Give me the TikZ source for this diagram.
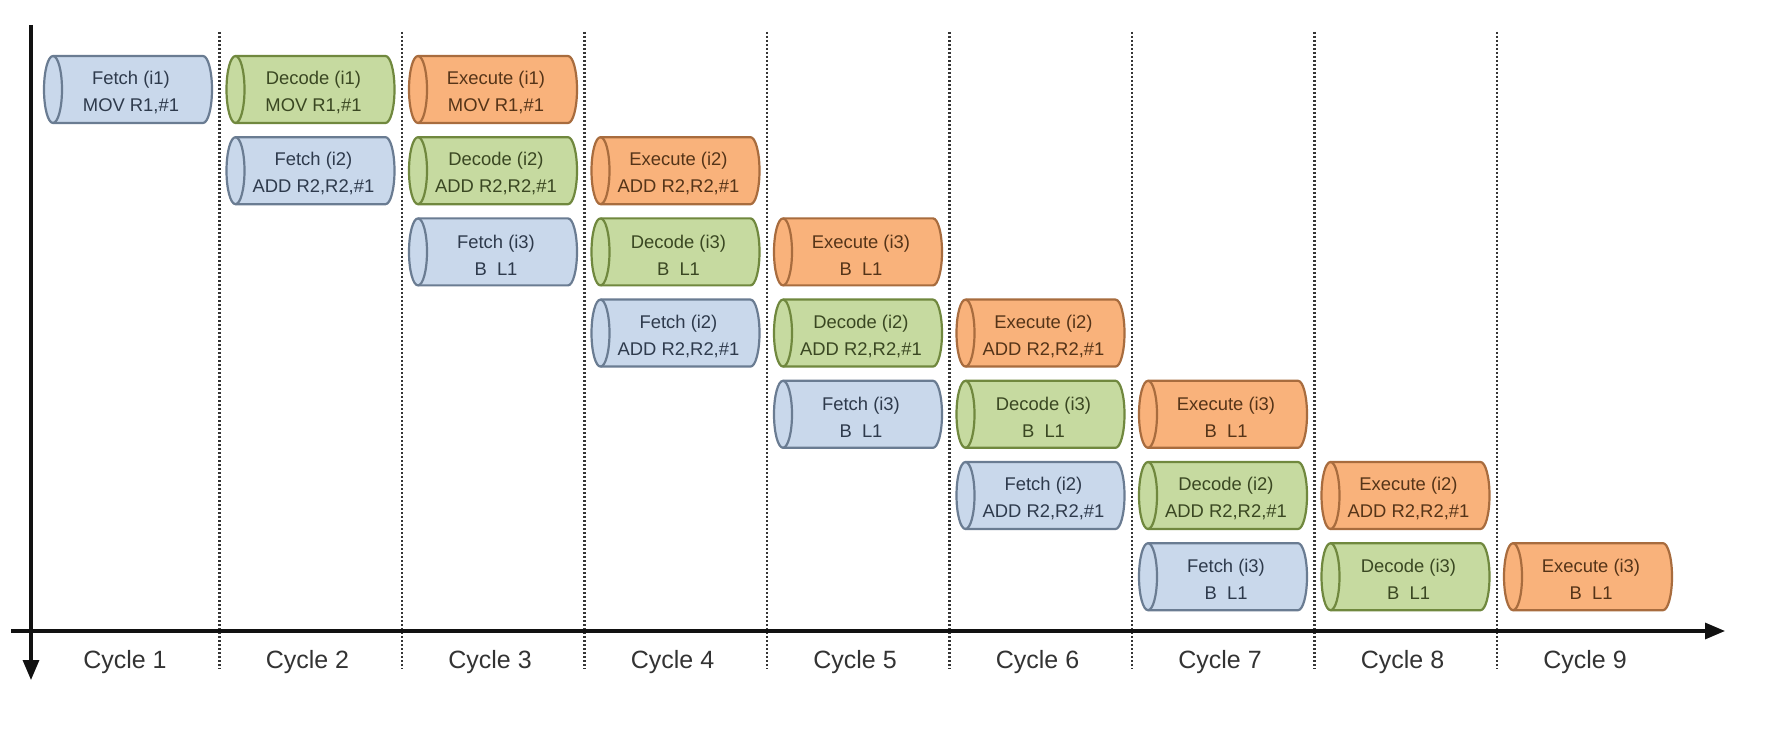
\documentclass[tikz,border=0pt]{standalone}
\usepackage{fontspec}
\setmainfont{Liberation Sans}
\usetikzlibrary{arrows.meta}
\definecolor{fetchfill}{HTML}{C9D8EB}
\definecolor{fetchline}{HTML}{6A7C92}
\definecolor{fetchtext}{HTML}{2E3A4C}
\definecolor{decodefill}{HTML}{C6DAA0}
\definecolor{decodeline}{HTML}{70883E}
\definecolor{decodetext}{HTML}{3A4722}
\definecolor{executefill}{HTML}{F9B27B}
\definecolor{executeline}{HTML}{A86C3E}
\definecolor{executetext}{HTML}{553418}
\definecolor{axiscol}{HTML}{111111}
\definecolor{labelcol}{HTML}{333333}
\tikzset{
  fetchbox/.style={fill=fetchfill, draw=fetchline},
  decodebox/.style={fill=decodefill, draw=decodeline},
  executebox/.style={fill=executefill, draw=executeline},
  cylline/.style={line width=1.1pt, line join=round},
  stagetext/.style={align=center, inner sep=0pt, font=\fontsize{9.2pt}{13.5pt}\selectfont},
  axisline/.style={line width=1.6pt, draw=axiscol, -{Triangle[length=10pt,width=8pt]}},
  cycdiv/.style={line width=1.3pt, draw=axiscol!85, dash pattern=on 1pt off 1pt},
  cyclabel/.style={font=\fontsize{12.5pt}{14pt}\selectfont, text=labelcol, inner sep=0pt}
}
\newcommand{\stage}[6]{%
  \pgfmathsetmacro{\cx}{128+182.5*(#2-1)}%
  \pgfmathsetmacro{\cy}{-(89.5+81.2*(#3-1))}%
  \filldraw[cylline,#4box] (\cx-75,\cy+33.5) -- (\cx+75,\cy+33.5)
     arc[start angle=90,end angle=-90,x radius=9,y radius=33.5]
     -- (\cx-75,\cy-33.5)
     arc[start angle=270,end angle=90,x radius=9,y radius=33.5] -- cycle;
  \draw[cylline,#4box,fill=none] (\cx-75,\cy+33.5)
     arc[start angle=90,end angle=-90,x radius=9,y radius=33.5];
  \node[stagetext,text=#4text] (#1) at (\cx+3,\cy-3) {#5\\#6};
}
\begin{document}
\begin{tikzpicture}[x=0.5pt,y=0.5pt]
\useasboundingbox (0,0) rectangle (1777,-748);
\fill[white] (0,0) rectangle (1777,-748);
% cycle dividers
\foreach \k in {1,...,8}{
  \pgfmathsetmacro{\dx}{219.5+182.5*(\k-1)}
  \coordinate (dt\k) at (\dx,-32);
  \coordinate (db\k) at (\dx,-669);
  \draw[cycdiv] (dt\k) -- (db\k);
}
% axes
\coordinate (vtop) at (31,-25);
\coordinate (vbot) at (31,-680);
\coordinate (hleft) at (11,-631);
\coordinate (hright) at (1725,-631);
\draw[axisline] (vtop) -- (vbot);
\draw[axisline] (hleft) -- (hright);
% stages
\stage{f1}{1}{1}{fetch}{Fetch (i1)}{MOV R1,\#1}
\stage{d1}{2}{1}{decode}{Decode (i1)}{MOV R1,\#1}
\stage{f2a}{2}{2}{fetch}{Fetch (i2)}{ADD R2,R2,\#1}
\stage{e1}{3}{1}{execute}{Execute (i1)}{MOV R1,\#1}
\stage{d2a}{3}{2}{decode}{Decode (i2)}{ADD R2,R2,\#1}
\stage{f3a}{3}{3}{fetch}{Fetch (i3)}{B\ \ L1}
\stage{e2a}{4}{2}{execute}{Execute (i2)}{ADD R2,R2,\#1}
\stage{d3a}{4}{3}{decode}{Decode (i3)}{B\ \ L1}
\stage{f2b}{4}{4}{fetch}{Fetch (i2)}{ADD R2,R2,\#1}
\stage{e3a}{5}{3}{execute}{Execute (i3)}{B\ \ L1}
\stage{d2b}{5}{4}{decode}{Decode (i2)}{ADD R2,R2,\#1}
\stage{f3b}{5}{5}{fetch}{Fetch (i3)}{B\ \ L1}
\stage{e2b}{6}{4}{execute}{Execute (i2)}{ADD R2,R2,\#1}
\stage{d3b}{6}{5}{decode}{Decode (i3)}{B\ \ L1}
\stage{f2c}{6}{6}{fetch}{Fetch (i2)}{ADD R2,R2,\#1}
\stage{e3b}{7}{5}{execute}{Execute (i3)}{B\ \ L1}
\stage{d2c}{7}{6}{decode}{Decode (i2)}{ADD R2,R2,\#1}
\stage{f3c}{7}{7}{fetch}{Fetch (i3)}{B\ \ L1}
\stage{e2c}{8}{6}{execute}{Execute (i2)}{ADD R2,R2,\#1}
\stage{d3c}{8}{7}{decode}{Decode (i3)}{B\ \ L1}
\stage{e3c}{9}{7}{execute}{Execute (i3)}{B\ \ L1}
% cycle labels
\foreach \k in {1,...,9}{
  \pgfmathsetmacro{\lx}{125+182.5*(\k-1)}
  \node[cyclabel] (c\k) at (\lx,-662) {Cycle \k};
}
\end{tikzpicture}
\end{document}
